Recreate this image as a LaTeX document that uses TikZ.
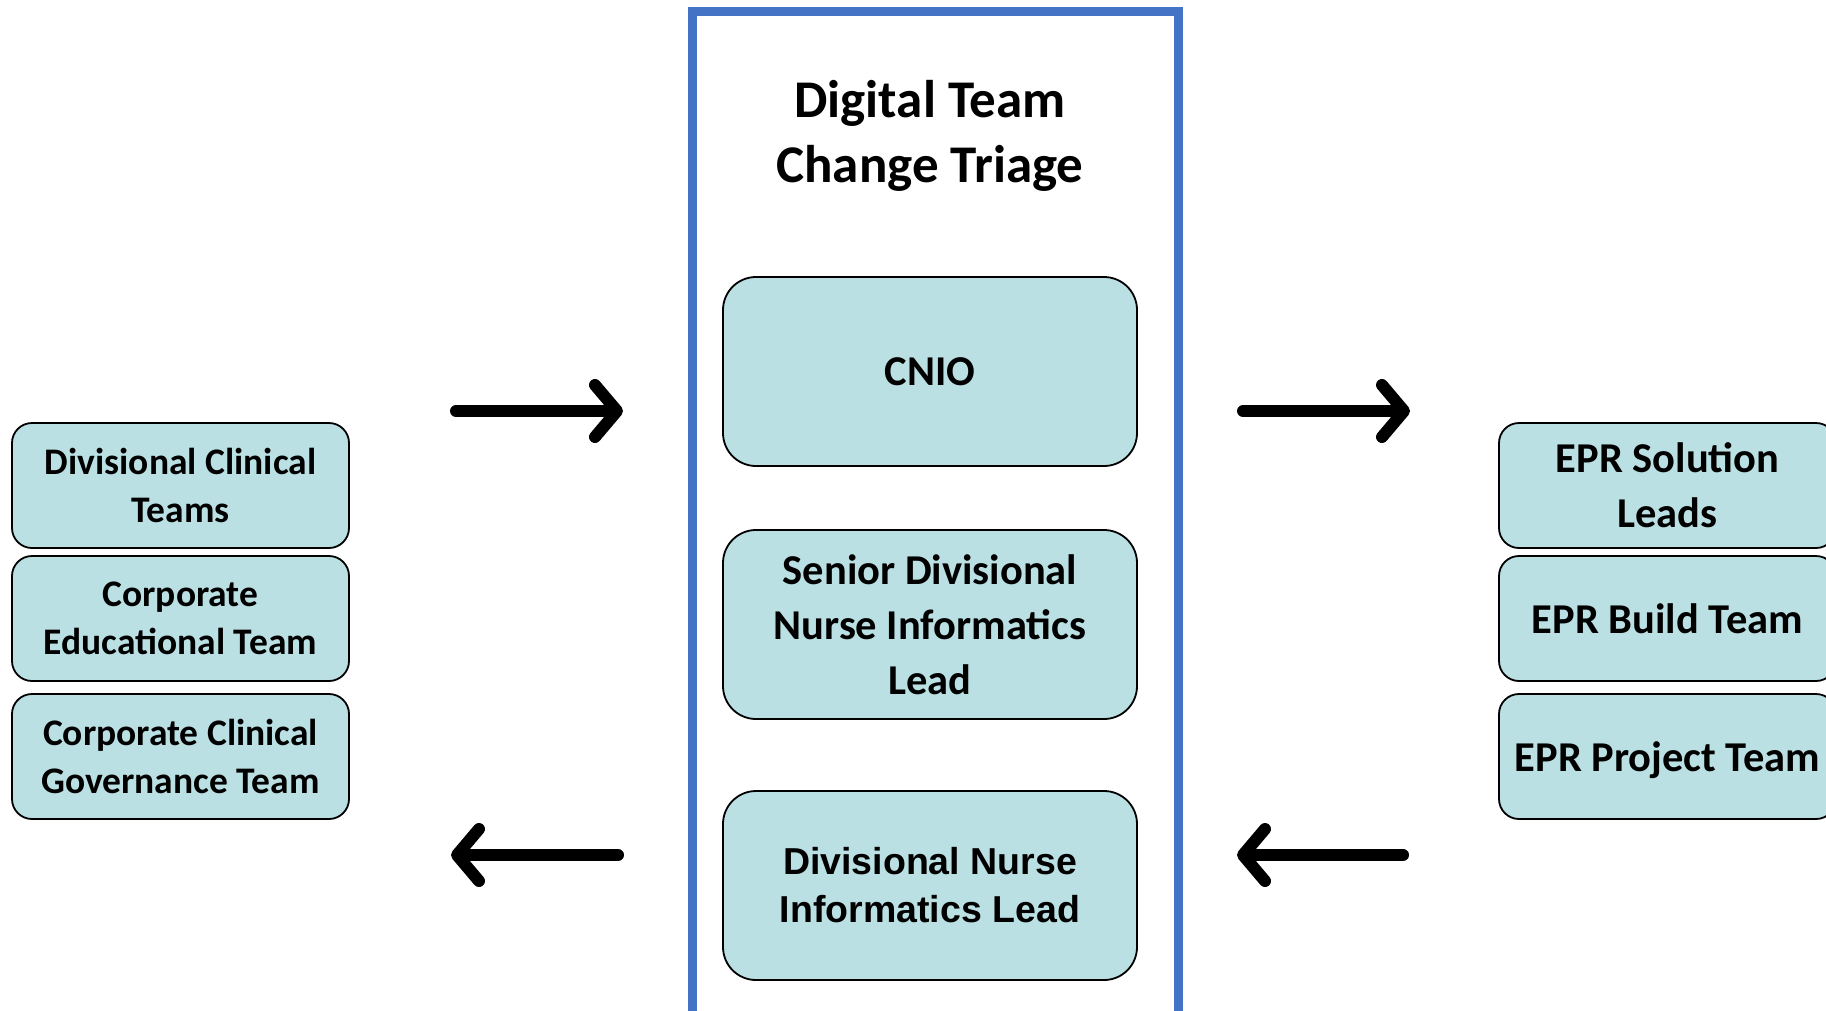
\documentclass[tikz,border=0pt]{standalone}
\usepackage{fontspec}
\setmainfont{Carlito}
\newfontfamily\arialfont{Liberation Sans}
\usetikzlibrary{arrows.meta}
\definecolor{boxfill}{HTML}{BAE0E3}
\definecolor{frameblue}{HTML}{4472C4}

\tikzset{
    team/.style = {draw = black, line width = 1.8pt, fill = boxfill, rounded corners = 20pt, minimum width = 337pt, minimum height = 125pt, align = center, font = \fontsize{37.5}{48}\selectfont\bfseries},
    epr/.style = {team, font = \fontsize{42.5}{55}\selectfont\bfseries},
    role/.style = {team, rounded corners = 33pt, minimum width = 414pt, minimum height = 189pt, font = \fontsize{42.5}{55}\selectfont\bfseries},
    flow/.style = {line width = 12pt, line cap = round, -{Straight Barb[length = 22pt, width = 52pt, round]}}
}

\begin{document}
\begin{tikzpicture}
        \useasboundingbox (0pt, 0pt) rectangle (1826pt, -1010pt);
        \clip (0pt, 0pt) rectangle (1826pt, -1010pt);

        % Triage frame
        \draw [frameblue, line width = 9pt] (692pt, -11pt) rectangle (1178pt, -1016pt);
        \node [align = center, font = \fontsize{53}{65}\selectfont\bfseries, anchor = base] (heading) at (930pt, -182pt) {Digital Team\\Change Triage};

        % Triage roles
        \node [role, text depth = 0pt] (cnio) at (930pt, -371.5pt) {CNIO};
        \node [role] (sdnil) at (930pt, -624.5pt) {Senior Divisional\\Nurse Informatics\\Lead};
        \node [role, font = \fontsize{37.5}{48}\selectfont\arialfont\bfseries] (dnil) at (930pt, -885.5pt) {Divisional Nurse\\Informatics Lead};

        % Clinical teams
        \node [team] (divteams) at (180.5pt, -485.5pt) {Divisional Clinical\\Teams};
        \node [team] (eduteam) at (180.5pt, -618.5pt) {Corporate\\Educational Team};
        \node [team] (govteam) at (180.5pt, -756.5pt) {Corporate Clinical\\Governance Team};

        % EPR teams
        \node [epr] (solleads) at (1667.5pt, -485.5pt) {EPR Solution\\Leads};
        \node [epr, text depth = 0pt] (buildteam) at (1667.5pt, -618.5pt) {EPR Build Team};
        \node [epr, text depth = 0pt] (projteam) at (1667.5pt, -756.5pt) {EPR Project Team};

        % Arrow ends
        \coordinate (inA) at (456pt, -411pt);
        \coordinate (inB) at (623pt, -411pt);
        \coordinate (outA) at (1243pt, -411pt);
        \coordinate (outB) at (1410pt, -411pt);
        \coordinate (backA) at (1403pt, -855pt);
        \coordinate (backB) at (1237pt, -855pt);
        \coordinate (retA) at (618pt, -855pt);
        \coordinate (retB) at (451pt, -855pt);

        % Draw the links
        \draw [flow] (inA) -- (inB);
        \draw [flow] (outA) -- (outB);
        \draw [flow] (backA) -- (backB);
        \draw [flow] (retA) -- (retB);

    \end{tikzpicture}
\end{document}
